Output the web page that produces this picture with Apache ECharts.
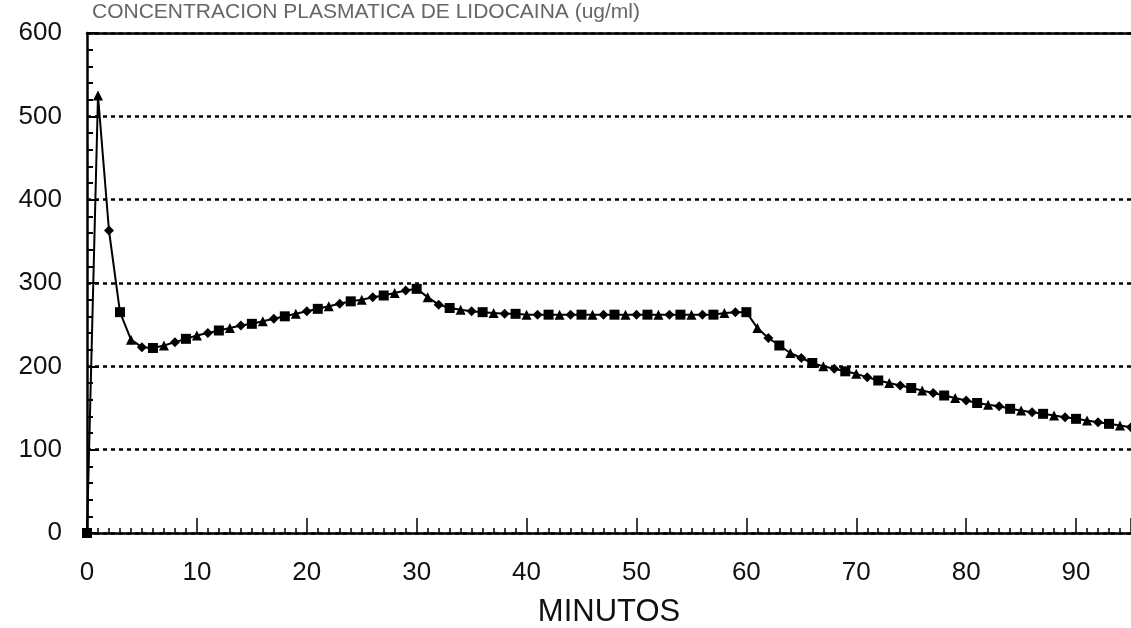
<!DOCTYPE html>
<html>
<head>
<meta charset="utf-8">
<script src="https://cdn.jsdelivr.net/npm/echarts@6/dist/echarts.min.js"></script>
<style>
  html, body { margin: 0; padding: 0; background: #fff; }
  #chart { width: 1131px; height: 628px; }
</style>
</head>
<body>
<div id="chart"></div>
<script>
// minutos (uno por minuto)
var minutos = [];
for (var m = 0; m <= 95; m++) minutos.push(m);

// valores
var valores = [
  0, 525, 363, 265, 232, 223, 222, 225, 229, 233,
  237, 240, 243, 246, 249, 251, 254, 257, 260, 263,
  266, 269, 272, 275, 278, 280, 283, 285, 288, 291,
  293, 283, 274, 270, 268, 266, 265, 264, 263, 263,
  262, 262, 262, 262, 262, 262, 262, 262, 262, 262,
  262, 262, 262, 262, 262, 262, 262, 262, 264, 265,
  265, 246, 234, 225, 216, 210, 204, 200, 197, 194,
  191, 187, 183, 180, 177, 174, 171, 168, 165, 162,
  159, 156, 154, 152, 149, 147, 145, 143, 141, 139,
  137, 135, 133, 131, 129, 127
];

var ticksY = [0, 100, 200, 300, 400, 500, 600];
var simbolos = ['rect', 'triangle', 'diamond'];

var chart = echarts.init(document.getElementById('chart'));

var datos = [];
for (var i = 0; i < minutos.length; i++) datos.push([minutos[i], valores[i]]);

chart.setOption({
  backgroundColor: '#fff',
  animation: false,
  textStyle: { fontFamily: '"Liberation Sans", Arial, sans-serif' },
  graphic: [{
    type: 'text',
    left: 92,
    top: 2,
    style: {
      text: 'CONCENTRACION PLASMATICA DE LIDOCAINA (ug/ml)',
      font: '21px "Liberation Sans", Arial, sans-serif',
      fill: '#666'
    }
  }],
  grid: { left: 87, right: 0, top: 33, bottom: 95, containLabel: false, outerBoundsMode: 'none' },
  xAxis: [
    {
      type: 'value',
      min: 0,
      max: 95,
      interval: 10,
      name: 'MINUTOS',
      nameLocation: 'middle',
      nameGap: 64,
      nameTextStyle: { fontSize: 31, color: '#111' },
      axisLine: { show: true, onZero: false, lineStyle: { color: '#000', width: 2.5 } },
      axisTick: { show: true, inside: true, length: 15, lineStyle: { color: '#000', width: 1.5 } },
      minorTick: { show: true, splitNumber: 10, length: 5, lineStyle: { color: '#000', width: 1.5 } },
      axisLabel: { fontSize: 26, color: '#111', margin: 27, showMaxLabel: false },
      splitLine: { show: false }
    },
    {
      type: 'value',
      position: 'top',
      min: 0,
      max: 95,
      axisLine: { show: true, onZero: false, lineStyle: { color: '#000', width: 2.5 } },
      axisTick: { show: false },
      axisLabel: { show: false },
      splitLine: { show: false }
    }
  ],
  yAxis: {
    type: 'value',
    min: ticksY[0],
    max: ticksY[ticksY.length - 1],
    interval: 100,
    axisLine: { show: true, lineStyle: { color: '#000', width: 2.5 } },
    axisTick: { show: true, inside: true, length: 12, lineStyle: { color: '#000', width: 2 } },
    minorTick: { show: true, splitNumber: 5, length: 6, lineStyle: { color: '#000', width: 2 } },
    axisLabel: { fontSize: 26, color: '#111', margin: 25 },
    splitLine: {
      show: true,
      lineStyle: { color: '#000', width: 2.5, type: [4, 4] }
    }
  },
  series: [{
    type: 'line',
    data: datos,
    symbol: function (v, p) { return simbolos[p.dataIndex % simbolos.length]; },
    symbolSize: 10,
    showAllSymbol: true,
    lineStyle: { color: '#000', width: 2 },
    itemStyle: { color: '#000' }
  }]
});
</script>
</body>
</html>
